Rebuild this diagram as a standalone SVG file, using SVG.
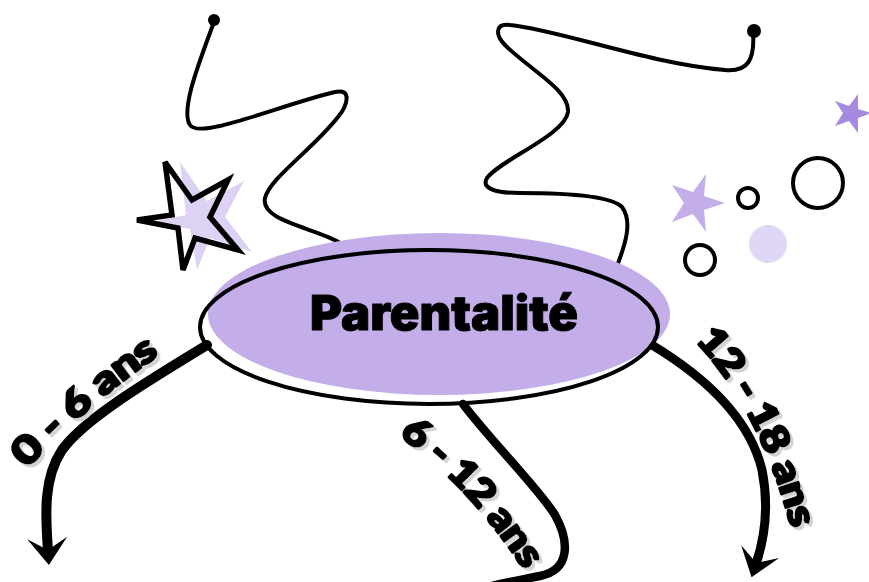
<svg xmlns="http://www.w3.org/2000/svg" xmlns:xlink="http://www.w3.org/1999/xlink" width="869" height="582" viewBox="0 0 869 582">
<style>
.sq{fill:none;stroke:#000;stroke-width:4;stroke-linecap:round;stroke-linejoin:round}
.arr{fill:none;stroke:#000;stroke-linecap:round}
.lbl{font-family:Lato,"Liberation Sans",sans-serif;font-weight:900;font-size:38px;dominant-baseline:central;fill:#000;stroke:#000;stroke-width:2.6;stroke-linejoin:round;filter:url(#shadow)}
.ring{fill:none;stroke:#000;stroke-width:4}
</style>
<defs>
<filter id="shadow" x="-20%" y="-20%" width="140%" height="140%">
<feFlood flood-color="#d4d4d4" result="c"/>
<feComposite in="c" in2="SourceAlpha" operator="in" result="s"/>
<feOffset in="s" dx="3" dy="3" result="o"/>
<feMerge><feMergeNode in="o"/><feMergeNode in="SourceGraphic"/></feMerge>
</filter>
<marker id="ah" markerUnits="userSpaceOnUse" markerWidth="44" markerHeight="48" viewBox="-30 -24 44 48" refX="-14" refY="0" orient="auto">
<path d="M0,0 L-27,-20 L-15,0 L-27,20 Z" fill="#000"/>
</marker>
<path id="p1" d="M8,468 Q72,395 162,335"/>
<path id="p2" d="M395,415 Q480,470 545,575"/>
<path id="p3" d="M695,320 Q775,395 810,540"/>
</defs>
<rect width="869" height="582" fill="#fff"/>

<g id="decor">
<path class="sq" d="M214,22 C200,60 180,110 190,125 C200,140 280,105 335,92 C352,88 348,105 338,117 C312,150 270,178 265,198 C260,222 318,228 342,244"/>
<circle cx="214" cy="20" r="6" fill="#000"/>
<path class="sq" d="M753,32 C755,60 748,72 725,70 C650,64 560,30 510,25 C495,23 495,35 505,45 C530,70 570,90 568,112 C565,135 500,160 487,178 C480,190 500,193 520,193 C560,193 610,195 622,207 C633,222 625,245 617,266"/>
<circle cx="754" cy="31" r="7" fill="#000"/>
<polygon fill="#ddd2f3" points="180,162 207,201 244,181 225,217 252,252 210,238 197,270 190,229 152,222 186,215"/>
<polygon fill="none" stroke="#000" stroke-width="5.5" stroke-linejoin="miter" points="165,162 192,200 228,180 210,217 238,250 195,238 183,270 178,228 137,220 172,215"/>
<polygon fill="#c3aee9" points="725,203 704,210 706,232 693,214 672,222 684,203 672,185 693,192 706,174 704,196"/>
<polygon fill="#a58ae0" points="872,113 858,118 858,133 849,121 835,126 843,113 835,101 849,106 858,94 858,109"/>
<circle class="ring" cx="748" cy="198" r="10"/>
<circle class="ring" cx="818" cy="183" r="25"/>
<circle class="ring" cx="700" cy="260" r="15"/>
<circle cx="768" cy="244" r="19" fill="#e0d6f5"/>
</g>

<g id="connectors">
<path class="arr" stroke-width="10" d="M207,345 C150,380 85,418 62,450 C42,480 46,520 48,551" marker-end="url(#ah)"/>
<path class="arr" stroke-width="8.5" d="M463,404 C490,440 540,490 555,515 C570,542 570,570 540,576 C515,581 495,584 470,592"/>
<path class="arr" stroke-width="9" d="M652,345 C710,380 750,420 762,470 C770,510 764,540 756,564" marker-end="url(#ah)"/>
<text id="label-0-6" class="lbl"><textPath xlink:href="#p1" startOffset="50%" text-anchor="middle" textLength="178" lengthAdjust="spacingAndGlyphs">0 - 6 ans</textPath></text>
<text id="label-6-12" class="lbl"><textPath xlink:href="#p2" startOffset="50%" text-anchor="middle" textLength="190" lengthAdjust="spacingAndGlyphs">6 - 12 ans</textPath></text>
<text id="label-12-18" class="lbl"><textPath xlink:href="#p3" startOffset="50%" text-anchor="middle" textLength="220" lengthAdjust="spacingAndGlyphs">12 - 18 ans</textPath></text>
</g>

<g id="node-parentalite">
<ellipse cx="439" cy="314" rx="231" ry="81" fill="#c3aee9"/>
<ellipse cx="429" cy="327" rx="229" ry="77" fill="none" stroke="#000" stroke-width="4"/>
<text x="444" y="330" text-anchor="middle" font-family="Inter,'Liberation Sans',sans-serif" font-weight="900" font-size="48" stroke="#000" stroke-width="1" stroke-linejoin="round" textLength="268" lengthAdjust="spacingAndGlyphs">Parentalité</text>
</g>
</svg>
